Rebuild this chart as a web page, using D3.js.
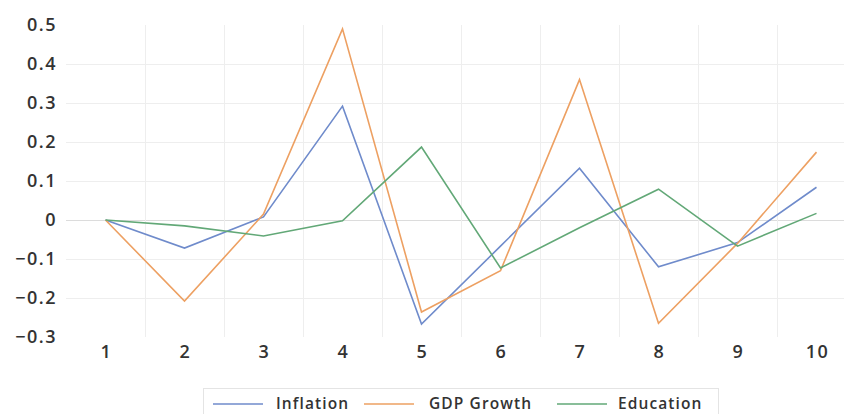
<!DOCTYPE html>
<html>
<head>
<meta charset="utf-8">
<script src="https://cdn.jsdelivr.net/npm/d3@7"></script>
<style>
  body { margin: 0; background: #fff; }
  svg { display: block; font-family: "Open Sans", sans-serif; }
</style>
</head>
<body>
<svg id="chart" width="844" height="414"></svg>
<script>
const categories = ["1","2","3","4","5","6","7","8","9","10"];
const inflation = [0, -0.072, 0.008, 0.292, -0.267, -0.067, 0.133, -0.12, -0.058, 0.084];
const gdpGrowth = [0, -0.208, 0.015, 0.49, -0.236, -0.13, 0.36, -0.265, -0.06, 0.174];
const education = [0, -0.015, -0.041, -0.002, 0.187, -0.123, -0.02, 0.079, -0.067, 0.017];
const yTicks = [0.5, 0.4, 0.3, 0.2, 0.1, 0, -0.1, -0.2, -0.3];
const seriesNames = ["Inflation", "GDP Growth", "Education"];
const seriesColors = ["#6f8bcb", "#eda062", "#62a877"];
const seriesData = [inflation, gdpGrowth, education];

(function () {
const svg = d3.select("#chart");
const pLeft = 66, pRight = 856, pTop = 25, pBottom = 337;
const textColor = "#333333";

const x = d3.scaleBand().domain(categories).range([pLeft, pRight]).padding(0);
const y = d3.scaleLinear().domain([-0.3, 0.5]).range([pBottom, pTop]);
const cx = c => x(c) + x.bandwidth() / 2;

// Horizontal gridlines
svg.append("g").selectAll("line")
  .data(yTicks.filter(t => t < 0.5 && t > -0.3))
  .join("line")
  .attr("x1", pLeft).attr("x2", pRight)
  .attr("y1", d => Math.round(y(d)) + 0.5).attr("y2", d => Math.round(y(d)) + 0.5)
  .attr("stroke", d => d === 0 ? "#dcdcdc" : "#eeeeee")
  .attr("stroke-width", 1);

// Vertical gridlines at category boundaries
svg.append("g").selectAll("line")
  .data(categories.slice(1))
  .join("line")
  .attr("x1", d => Math.round(x(d)) + 0.5).attr("x2", d => Math.round(x(d)) + 0.5)
  .attr("y1", pTop).attr("y2", pBottom)
  .attr("stroke", "#eeeeee")
  .attr("stroke-width", 1);

// Y axis labels
const yAxis = d3.axisLeft(y).tickValues(yTicks).tickSize(0).tickPadding(0)
  .tickFormat(d => d === 0 ? "0" : d3.format(".1f")(d));
const gy = svg.append("g").attr("transform", "translate(57,0)").call(yAxis);
gy.select(".domain").remove();
gy.selectAll("text").attr("font-size", 18).attr("fill", textColor)
  .attr("font-weight", 600).attr("letter-spacing", "1.5px")
  .attr("font-family", "'Open Sans', sans-serif");

// X axis labels
const xAxis = d3.axisBottom(x).tickSize(0).tickPadding(0);
const gx = svg.append("g").attr("transform", `translate(1,${pBottom + 8})`).call(xAxis);
gx.select(".domain").remove();
gx.selectAll("text").attr("font-size", 18).attr("fill", textColor)
  .attr("font-weight", 600).attr("letter-spacing", "1.5px")
  .attr("font-family", "'Open Sans', sans-serif");

// Lines
const line = d3.line().x((d, i) => cx(categories[i])).y(d => y(d));
svg.append("g").selectAll("path")
  .data(seriesData)
  .join("path")
  .attr("d", d => line(d))
  .attr("fill", "none")
  .attr("stroke", (d, i) => seriesColors[i])
  .attr("stroke-width", 1.6)
  .attr("stroke-linejoin", "miter");

// Legend
const lg = svg.append("g");
lg.append("rect").attr("x", 203.5).attr("y", 388.5).attr("width", 515).attr("height", 30)
  .attr("fill", "none").attr("stroke", "#e4e4e4");
const legendItems = [
  { x1: 213, x2: 263, tx: 276 },
  { x1: 364, x2: 414, tx: 429 },
  { x1: 557, x2: 607, tx: 618 }
];
legendItems.forEach((it, i) => {
  lg.append("line").attr("x1", it.x1).attr("x2", it.x2).attr("y1", 404).attr("y2", 404)
    .attr("stroke", seriesColors[i]).attr("stroke-width", 1.6);
  lg.append("text").attr("x", it.tx).attr("y", 404).attr("dy", "0.35em")
    .attr("font-size", 15.5).attr("font-weight", 600).attr("letter-spacing", "1.1px")
    .attr("fill", textColor).text(seriesNames[i]);
});
})();
</script>
</body>
</html>
